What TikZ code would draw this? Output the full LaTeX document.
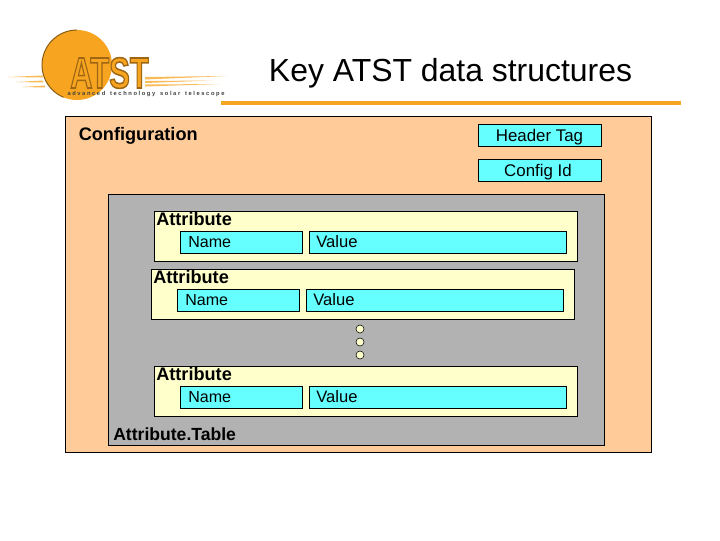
\documentclass[tikz,border=0pt]{standalone}
\usepackage{fontspec}
\usepackage{xcolor}
\setmainfont{Liberation Sans}
\definecolor{peach}{HTML}{FFCC99}
\definecolor{panelgray}{HTML}{B2B2B2}
\definecolor{paleyellow}{HTML}{FFFFCC}
\definecolor{cyanbox}{HTML}{66FFFF}
\definecolor{atstgold}{HTML}{F7A520}
\tikzset{
  field/.style={draw=black, fill=cyanbox, inner sep=0pt, minimum height=15.8pt},
  tagbox/.style={draw=black, fill=cyanbox, inner sep=0pt, minimum width=87.6pt, minimum height=16pt},
  heading/.style={inner sep=0pt, font=\fontsize{12.9}{14}\selectfont\bfseries},
  plain/.style={inner sep=0pt, font=\fontsize{11.4}{13}\selectfont},
  blob/.style={circle, draw=black, fill=paleyellow, inner sep=0pt, minimum size=5.7pt}
}
\begin{document}
\begin{tikzpicture}[x=0.025cm, y=-0.025cm]
\useasboundingbox (0,0) rectangle (720,540);
\fill[white] (0,0) rectangle (720,540);

% logo
\fill[atstgold] (77,65) circle (35);
\draw[black!45!atstgold, line width=0.7pt] (63.6,97.3) arc (112.5:270:35);
\fill[atstgold!75] (145,77) -- (227,76) -- (145,79.5) -- cycle;
\fill[atstgold!75] (145,81) -- (212,80.5) -- (145,83) -- cycle;
\fill[atstgold!75] (145,84.5) -- (220,84) -- (145,86.5) -- cycle;
\fill[atstgold!75] (8,77) -- (43,75.5) -- (43,77.5) -- cycle;
\fill[atstgold!75] (16,82) -- (43,80.5) -- (43,82.5) -- cycle;
\fill[atstgold!75] (22,87) -- (45,85.5) -- (45,87.5) -- cycle;
\node (logoword) [inner sep=0pt, text=atstgold, xscale=0.71, font=\fontsize{31}{33}\selectfont\bfseries] at (109.5,73)
  {\special{pdf:code 0.62 0.40 0.08 RG 1.1 w 2 Tr}ATST\special{pdf:code 0 Tr}};
\node (logotag) [inner sep=0pt, text=black!75, font=\fontsize{4.1}{5}\selectfont\bfseries] at (146,94) {a d v a n c e d\ \ \ t e c h n o l o g y\ \ \ s o l a r\ \ \ t e l e s c o p e};

% title and rule
\node (title) [inner sep=0pt, font=\fontsize{22.7}{26}\selectfont] at (450.5,73) {Key ATST data structures};
\fill[atstgold] (221,101) rectangle (681,105);

% configuration
\draw[black, fill=peach] (65.5,116.5) rectangle (651.5,452.5);
\node (config) [heading, anchor=west] at (78.5,135.5) {Configuration};
\node (headertag) [tagbox] at (540,135.5) {};
\node (configid) [tagbox] at (540,170.5) {};
\node [plain, font=\fontsize{12}{13}\selectfont] at (539.5,137) {Header Tag};
\node [plain, font=\fontsize{12}{13}\selectfont] at (538,172) {Config Id};

% attribute table
\draw[black, fill=panelgray] (108.5,194.5) rectangle (604.5,445.5);
\node (table) [heading, anchor=west, font=\fontsize{12.5}{14}\selectfont\bfseries] at (113,434.5) {Attribute.Table};

% attributes
\foreach \n/\xo/\yo in {a/0/0,b/-3/58,c/0/155} {
  \draw[black, fill=paleyellow] (154.5+\xo,211.5+\yo) rectangle (577.5+\xo,261.5+\yo);
  \node (attr\n) [heading, anchor=west] at (156+\xo,219+\yo) {Attribute};
  \node (name\n) [field, minimum width=87.3pt, anchor=west] at (179.5+\xo,242.5+\yo) {};
  \node (value\n) [field, minimum width=182.5pt, anchor=west] at (309+\xo,242.5+\yo) {};
  \node [plain, anchor=west] at (188+\xo,242+\yo) {Name};
  \node [plain, anchor=west, font=\fontsize{11.8}{13}\selectfont] at (316+\xo,241.5+\yo) {Value};
}

% dots between attributes
\foreach \y in {329,342,355}
  \node [blob] at (360,\y) {};
\end{tikzpicture}
\end{document}
